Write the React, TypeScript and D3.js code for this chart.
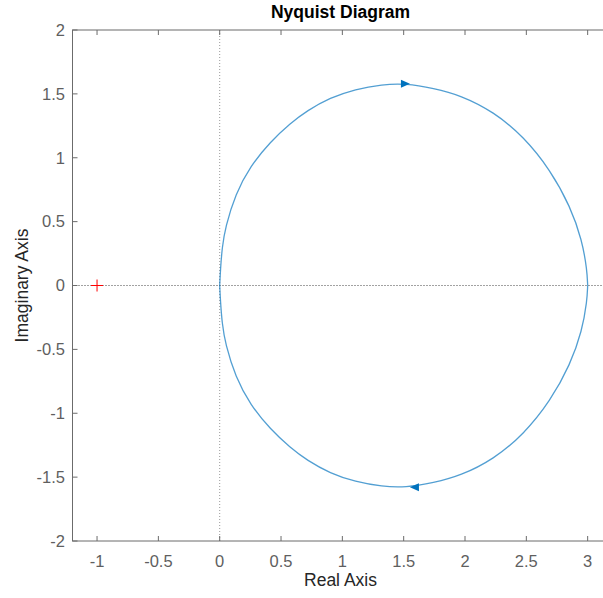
import React from "react";
import * as d3 from "d3";

const upperRe = [0, 0.006, 0.02, 0.046, 0.128, 0.25, 0.413, 0.576, 0.712, 0.9, 1.106, 1.324, 1.514, 1.745, 1.962, 2.234, 2.478, 2.696, 2.859, 2.954, 2.995, 3];
const upperIm = [0, 0.12, 0.3, 0.455, 0.715, 0.935, 1.125, 1.27, 1.368, 1.47, 1.537, 1.574, 1.582, 1.544, 1.49, 1.36, 1.165, 0.904, 0.617, 0.356, 0.12, 0];
// Positive-frequency branch (lower half), from 3 back to origin
const lowerRe = [3, 2.995, 2.954, 2.859, 2.696, 2.478, 2.234, 1.962, 1.745, 1.514, 1.324, 1.106, 0.9, 0.712, 0.576, 0.413, 0.25, 0.128, 0.046, 0.02, 0.006, 0];
const lowerIm = [0, -0.12, -0.356, -0.617, -0.904, -1.165, -1.36, -1.49, -1.544, -1.582, -1.574, -1.537, -1.47, -1.368, -1.27, -1.125, -0.935, -0.715, -0.455, -0.3, -0.12, 0];

// Direction arrows on the curve
const arrowRe = [1.551, 1.551];
const arrowIm = [1.58, -1.58];
const arrowDir = [1, -1];

// Critical point
const critRe = -1;
const critIm = 0;

const xTicks = [-1, -0.5, 0, 0.5, 1, 1.5, 2, 2.5, 3];
const yTicks = [-2, -1.5, -1, -0.5, 0, 0.5, 1, 1.5, 2];
const xDomain = [-1.2, 3.2];
const yDomain = [-2, 2];

const W = 603;
const H = 598;
const FONT = "'Liberation Sans', Arial, Helvetica, sans-serif";

export default function App() {
  const x = d3.scaleLinear().domain(xDomain).range([72.5, 612.2]);
  const y = d3.scaleLinear().domain(yDomain).range([541, 30]);
  const left = x(xDomain[0]);
  const right = x(xDomain[1]);
  const top = y(yDomain[1]);
  const bottom = y(yDomain[0]);

  const line = d3
    .line<[number, number]>()
    .x((d) => x(d[0]))
    .y((d) => y(d[1]))
    .curve(d3.curveBasis);
  const upper: [number, number][] = upperRe.map((r, i) => [r, upperIm[i]]);
  const lower: [number, number][] = lowerRe.map((r, i) => [r, lowerIm[i]]);

  const axisColor = "#6b6b6b";
  const tickLen = 5;
  const fmt = (v: number) => String(v);

  return (
    <svg width={W} height={H} style={{ position: "absolute", left: 0, top: 0, background: "#fff" }}>
      <rect x={0} y={0} width={W} height={H} fill="#fff" />
      {/* zero lines */}
      <line x1={x(0)} x2={x(0)} y1={top} y2={bottom} stroke="#999" strokeWidth={1} strokeDasharray="1,2" />
      <line x1={left} x2={right} y1={y(0)} y2={y(0)} stroke="#444" strokeWidth={1} strokeDasharray="1,2" />
      {/* curve */}
      <path d={line(upper) || ""} fill="none" stroke="#0072BD" strokeOpacity={0.68} strokeWidth={1.3} strokeLinejoin="round" />
      <path d={line(lower) || ""} fill="none" stroke="#0072BD" strokeOpacity={0.68} strokeWidth={1.3} strokeLinejoin="round" />
      {arrowRe.map((r, i) => {
        const tx = x(r);
        const ty = y(arrowIm[i]);
        const dir = arrowDir[i];
        const bx = tx - dir * 9;
        return (
          <polygon key={i} points={`${tx},${ty} ${bx},${ty - 4} ${bx},${ty + 4}`} fill="#0072BD" />
        );
      })}
      {/* critical point */}
      <g stroke="#ff0000" strokeWidth={1}>
        <line x1={x(critRe) - 6} x2={x(critRe) + 6} y1={y(critIm)} y2={y(critIm)} />
        <line x1={x(critRe)} x2={x(critRe)} y1={y(critIm) - 6} y2={y(critIm) + 6} />
      </g>
      {/* axes box */}
      <rect x={left} y={top} width={right - left} height={bottom - top} fill="none" stroke={axisColor} strokeWidth={1} />
      {xTicks.map((t) => (
        <g key={"x" + t}>
          <line x1={x(t)} x2={x(t)} y1={bottom} y2={bottom - tickLen} stroke={axisColor} />
          <line x1={x(t)} x2={x(t)} y1={top} y2={top + tickLen} stroke={axisColor} />
          <text x={x(t)} y={567} textAnchor="middle" fontFamily={FONT} fontSize={16.5} fill="#5f5f5f">
            {fmt(t)}
          </text>
        </g>
      ))}
      {yTicks.map((t) => (
        <g key={"y" + t}>
          <line x1={left} x2={left + tickLen} y1={y(t)} y2={y(t)} stroke={axisColor} />
          <line x1={right} x2={right - tickLen} y1={y(t)} y2={y(t)} stroke={axisColor} />
          <text x={65} y={y(t)} dy="0.35em" textAnchor="end" fontFamily={FONT} fontSize={16.5} fill="#5f5f5f">
            {fmt(t)}
          </text>
        </g>
      ))}
      {/* labels */}
      <text x={340.5} y={18} textAnchor="middle" fontFamily={FONT} fontSize={17.5} fontWeight="bold" fill="#000">
        Nyquist Diagram
      </text>
      <text x={340.5} y={586} textAnchor="middle" fontFamily={FONT} fontSize={17.5} fill="#262626">
        Real Axis
      </text>
      <text
        transform={`translate(28,${(top + bottom) / 2}) rotate(-90)`}
        textAnchor="middle"
        fontFamily={FONT}
        fontSize={17.5}
        fill="#262626"
      >
        Imaginary Axis
      </text>
    </svg>
  );
}
